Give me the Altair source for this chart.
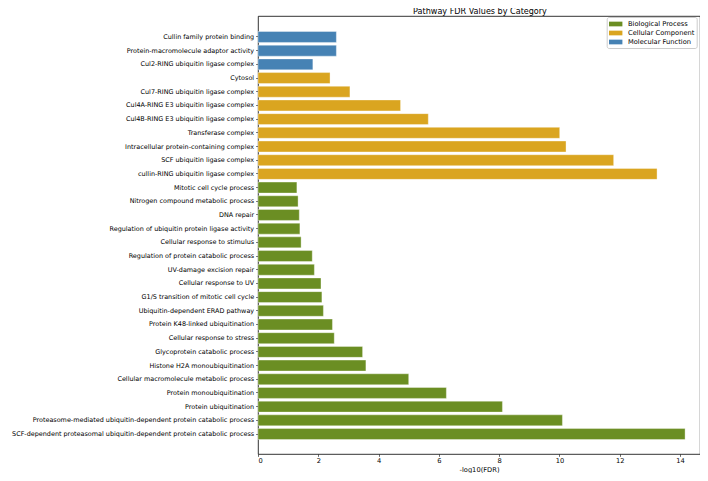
import altair as alt
import pandas as pd

title_text = "Pathway FDR Values by Category"

mf_terms = [
    "Cullin family protein binding",
    "Protein-macromolecule adaptor activity",
    "Cul2-RING ubiquitin ligase complex",
]
mf_values = [2.6, 2.6, 1.82]

cc_terms = [
    "Cytosol",
    "Cul7-RING ubiquitin ligase complex",
    "Cul4A-RING E3 ubiquitin ligase complex",
    "Cul4B-RING E3 ubiquitin ligase complex",
    "Transferase complex",
    "Intracellular protein-containing complex",
    "SCF ubiquitin ligase complex",
    "cullin-RING ubiquitin ligase complex",
]
cc_values = [2.39, 3.05, 4.73, 5.65, 10.01, 10.22, 11.80, 13.24]

bp_terms = [
    "Mitotic cell cycle process",
    "Nitrogen compound metabolic process",
    "DNA repair",
    "Regulation of ubiquitin protein ligase activity",
    "Cellular response to stimulus",
    "Regulation of protein catabolic process",
    "UV-damage excision repair",
    "Cellular response to UV",
    "G1/S transition of mitotic cell cycle",
    "Ubiquitin-dependent ERAD pathway",
    "Protein K48-linked ubiquitination",
    "Cellular response to stress",
    "Glycoprotein catabolic process",
    "Histone H2A monoubiquitination",
    "Cellular macromolecule metabolic process",
    "Protein monoubiquitination",
    "Protein ubiquitination",
    "Proteasome-mediated ubiquitin-dependent protein catabolic process",
    "SCF-dependent proteasomal ubiquitin-dependent protein catabolic process",
]
bp_values = [1.29, 1.33, 1.37, 1.39, 1.43, 1.80, 1.87, 2.09, 2.12, 2.17,
             2.47, 2.53, 3.47, 3.58, 5.0, 6.25, 8.11, 10.1, 14.17]

categories = ["Biological Process", "Cellular Component", "Molecular Function"]
colors = ["#6B8E23", "#DAA520", "#4682B4"]

terms = mf_terms + cc_terms + bp_terms
values = mf_values + cc_values + bp_values
cats = (["Molecular Function"] * len(mf_terms)
        + ["Cellular Component"] * len(cc_terms)
        + ["Biological Process"] * len(bp_terms))

df = pd.DataFrame({"term": terms, "value": values, "category": cats})

FONT = "DejaVu Sans"

bars = alt.Chart(df).mark_bar(
    stroke="white", strokeWidth=0.6, strokeOpacity=0.6
).encode(
    y=alt.Y(
        "term:N",
        sort=terms,
        title=None,
        scale=alt.Scale(paddingInner=0.2, paddingOuter=0, range=[15.5, 423.5]),
        axis=alt.Axis(
            labelFontSize=6.45, labelColor="black", labelLimit=400,
            tickSize=2.35, tickColor="black", tickWidth=0.6,
            labelPadding=2.0, domain=False, grid=False,
        ),
    ),
    x=alt.X(
        "value:Q",
        title="-log10(FDR)",
        scale=alt.Scale(domain=[0, 14.665], nice=False, zero=True),
        axis=alt.Axis(
            values=[0, 2, 4, 6, 8, 10, 12, 14],
            labelFontSize=6.7, labelColor="black",
            tickSize=2.35, tickColor="black", tickWidth=0.6,
            labelPadding=1.5, domain=False, grid=False,
            titleFontSize=6.7, titleFontWeight="normal", titleColor="black",
            titlePadding=1.5,
        ),
    ),
    color=alt.Color(
        "category:N",
        scale=alt.Scale(domain=categories, range=colors),
        legend=alt.Legend(
            title=None, orient="none", legendX=348.7, legendY=1,
            symbolType="M-0.94,-0.47H1.74V0.47H-0.94Z", symbolSize=100,
            symbolStrokeWidth=0, symbolOpacity=1,
            labelFontSize=6.7, labelColor="black", labelOffset=9.3,
            padding=2, rowPadding=0,
            fillColor="rgba(255,255,255,0.8)", strokeColor="#cccccc",
            cornerRadius=2,
        ),
    ),
)

title_layer = alt.Chart(pd.DataFrame({"t": [title_text]})).mark_text(
    fontSize=8.07, baseline="alphabetic", align="center", color="black"
).encode(
    text="t:N",
    x=alt.value(222),
    y=alt.value(-2),
)

chart = alt.layer(bars, title_layer).properties(
    width=442,
    height=438,
    autosize=alt.AutoSizeParams(type="none"),
    padding={"left": 250, "top": 8, "right": 0, "bottom": 19},
).configure(
    font=FONT,
).configure_view(
    stroke="black", strokeWidth=0.8,
)

chart.save("out.html", embed_options={"renderer": "svg", "actions": False})
